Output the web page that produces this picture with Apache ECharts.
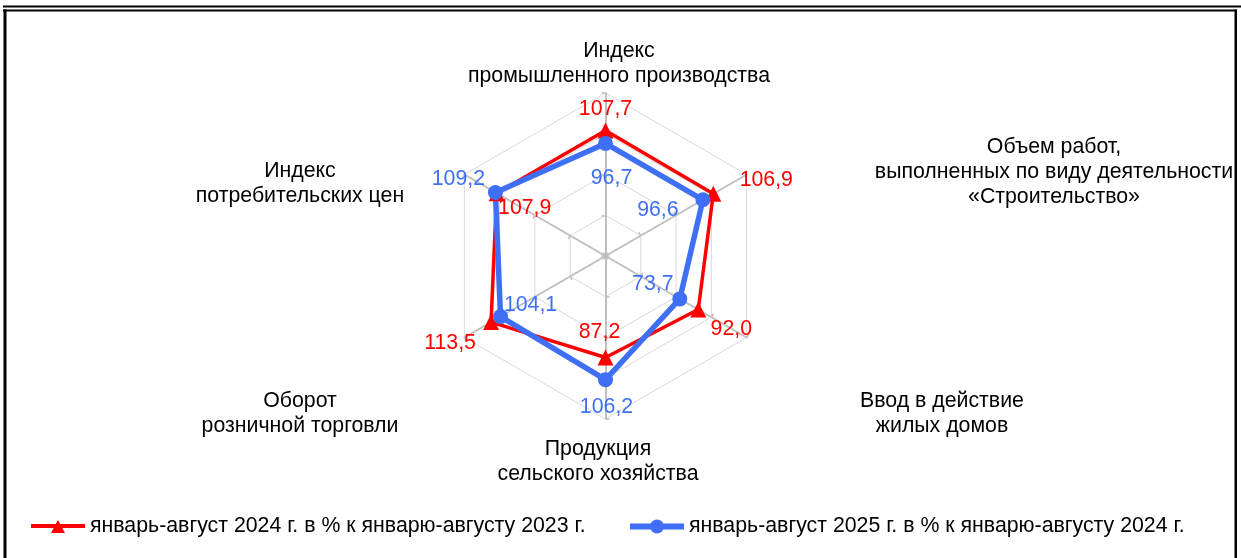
<!DOCTYPE html>
<html>
<head>
<meta charset="utf-8">
<script src="https://cdn.jsdelivr.net/npm/echarts@6/dist/echarts.min.js"></script>
<style>
  html, body { margin: 0; padding: 0; background: #fff; }
  #chart { width: 1241px; height: 558px; }
</style>
</head>
<body>
<div id="chart"></div>
<script>
// axes, clockwise from the top
const categories = [
  "Индекс\nпромышленного производства",
  "Объем работ,\nвыполненных по виду деятельности\n«Строительство»",
  "Ввод в действие\nжилых домов",
  "Продукция\nсельского хозяйства",
  "Оборот\nрозничной торговли",
  "Индекс\nпотребительских цен",
];
const values2024 = [107.7, 106.9, 92.0, 87.2, 113.5, 107.9];
const values2025 = [96.7, 96.6, 73.7, 106.2, 104.1, 109.2];
const seriesNames = [
  "январь-август 2024 г. в % к январю-августу 2023 г.",
  "январь-август 2025 г. в % к январю-августу 2024 г.",
];
const axisMin = 0;
const axisMax = 140;
const splitCount = 4;

// layout (not data): label offsets from their points, category label centres, legend x
const offsets2024 = [[0, -21], [53, -14], [33, 20], [-6, -25], [-41, 21], [28, 15]];
const offsets2025 = [[6, 35], [-45, 10], [-27, -15], [1, 27], [30, -11], [-37, -13]];
const namePos = [[619, 64], [1054, 172], [942, 414], [598, 462], [300, 414], [300, 184]];
const legendLeft = [26, 625];

const RED = "#ff0000";
const BLUE = "#3f6ff4";
const FONT = "Liberation Sans";
const FS = 21.3;

// legend icons: line with the marker in the middle (box 54 x 14)
const icons = [
  "path://M0,5L54,5L54,9L0,9Z M20,14L27,1L34,14Z",
  "path://M0,4L54,4L54,10L0,10Z M20,7A7,7,0,1,1,34,7A7,7,0,1,1,20,7Z",
];

// echarts radar goes counterclockwise, so reorder
const order = [0, 5, 4, 3, 2, 1];
const pick = (arr) => order.map((i) => arr[i]);
const fmt = (v) => v.toFixed(1).replace(".", ",");

function layoutFor(values, offsets) {
  const texts = values.map(fmt);
  return (params) => {
    const i = texts.indexOf(params.text);
    if (i < 0) return {};
    return { dx: offsets[i][0], dy: offsets[i][1] };
  };
}

const chart = echarts.init(document.getElementById("chart"));

const frame = [
  { x: 3, y: 5.5, width: 1238, height: 2 },
  { x: 3, y: 9.5, width: 1234, height: 2 },
  { x: 3.5, y: 9.5, width: 3, height: 549 },
  { x: 1234.5, y: 9.5, width: 2.5, height: 549 },
].map((shape) => ({ type: "rect", shape, style: { fill: "#000" }, silent: true }));

const names = categories.map((c, i) => ({
  type: "text",
  x: namePos[i][0],
  y: namePos[i][1],
  style: {
    text: c,
    font: `${FS}px "${FONT}"`,
    fill: "#000",
    align: "center",
    verticalAlign: "middle",
    lineHeight: 25,
  },
  silent: true,
}));

const labelStyle = (color) => ({
  show: true,
  position: "inside",
  color,
  fontSize: FS,
  fontFamily: FONT,
  formatter: (p) => fmt(p.value),
});

const legends = seriesNames.map((name, i) => ({
  left: legendLeft[i],
  top: 511,
  itemWidth: 54,
  itemHeight: 14,
  textStyle: { fontSize: FS, color: "#000", fontFamily: FONT },
  data: [{ name, icon: icons[i] }],
}));

chart.setOption({
  animation: false,
  backgroundColor: "#fff",
  textStyle: { fontFamily: FONT },
  graphic: [...frame, ...names],
  legend: legends,
  radar: {
    center: [605.5, 256],
    radius: 163,
    startAngle: 90,
    splitNumber: splitCount,
    shape: "polygon",
    indicator: pick(categories).map((name) => ({ name, min: axisMin, max: axisMax })),
    axisName: { show: false },
    axisLine: { lineStyle: { color: "#bfbfbf", width: 2 } },
    axisTick: { show: true, length: 4, lineStyle: { color: "#bfbfbf", width: 1.5 } },
    splitLine: { lineStyle: { color: "#d9d9d9", width: 1 } },
    splitArea: { show: false },
  },
  series: [
    {
      name: seriesNames[0],
      type: "radar",
      symbol: "triangle",
      symbolSize: 16,
      lineStyle: { color: RED, width: 3.5 },
      itemStyle: { color: RED },
      label: labelStyle(RED),
      labelLayout: layoutFor(values2024, offsets2024),
      data: [{ name: seriesNames[0], value: pick(values2024) }],
    },
    {
      name: seriesNames[1],
      type: "radar",
      symbol: "circle",
      symbolSize: 15,
      lineStyle: { color: BLUE, width: 5.5 },
      itemStyle: { color: BLUE },
      label: labelStyle(BLUE),
      labelLayout: layoutFor(values2025, offsets2025),
      data: [{ name: seriesNames[1], value: pick(values2025) }],
    },
  ],
});
</script>
</body>
</html>
